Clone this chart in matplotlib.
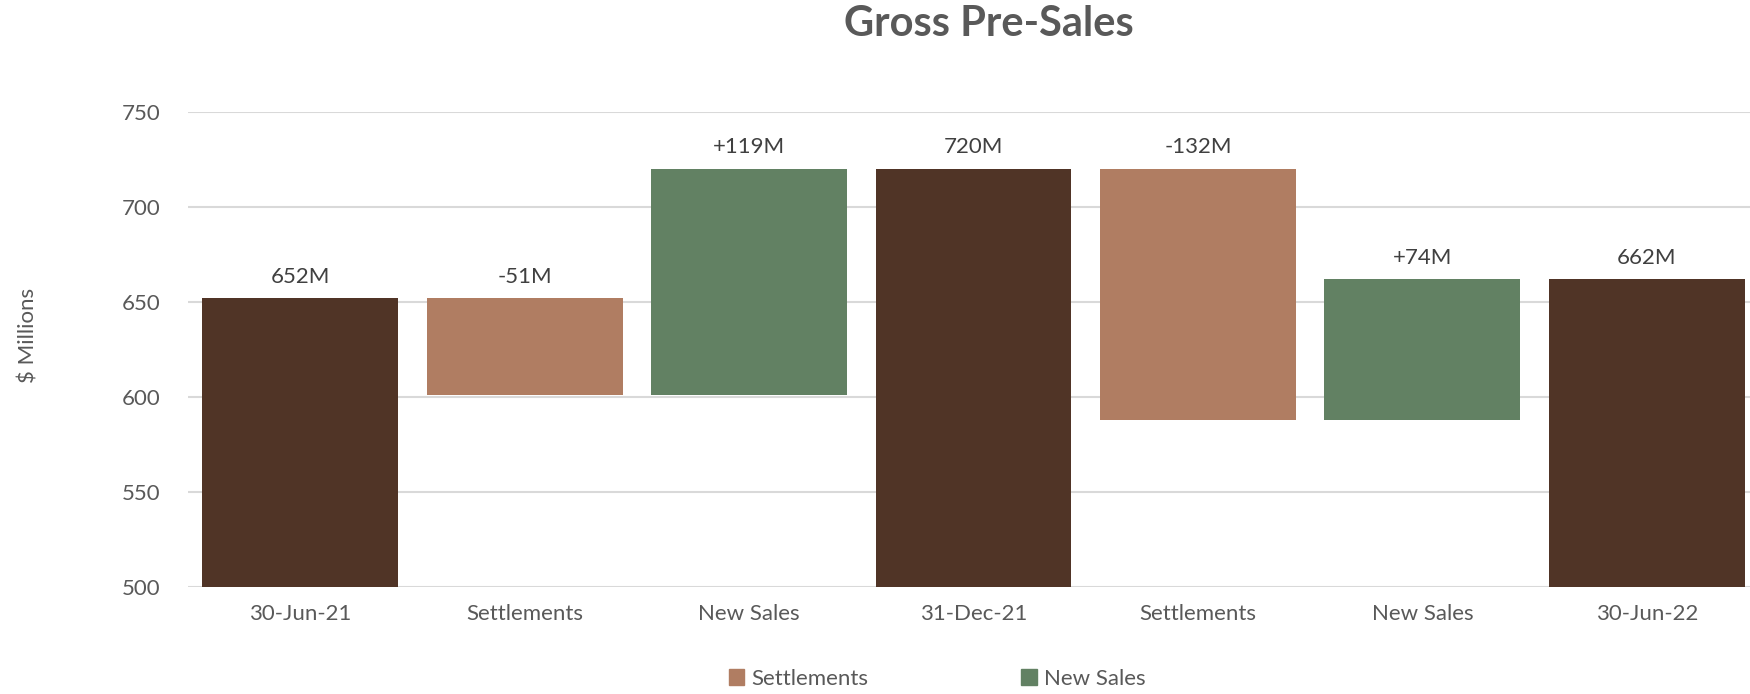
import matplotlib
matplotlib.use("Agg")
import matplotlib.pyplot as plt
from matplotlib.patches import Patch

plt.rcParams['font.family'] = ['Lato', 'DejaVu Sans']

# ---- data ----
categories = ['30-Jun-21', 'Settlements', 'New Sales', '31-Dec-21',
              'Settlements', 'New Sales', '30-Jun-22']
kinds = ['total', 'settle', 'new', 'total', 'settle', 'new', 'total']
values = [652, -51, 119, 720, -132, 74, 662]
y_ticks = [500, 550, 600, 650, 700, 750]
legend_labels = ['Settlements', 'New Sales']

colors = {'total': '#503426', 'settle': '#B07D62', 'new': '#628163'}
text_color = '#595959'
grid_color = '#D9D9D9'
ymin, ymax = 500, 750
fs = 16

fig = plt.figure(figsize=(17.5, 6.94), dpi=100)
ax = fig.add_axes([188 / 1750, 107 / 694, 1571 / 1750, 475.5 / 694])

running = 0
for i, (k, v) in enumerate(zip(kinds, values)):
    if k == 'total':
        bottom, top = ymin, v
        running = v
        label = f'{v}M'
    else:
        start = running
        running = running + v
        bottom, top = min(start, running), max(start, running)
        label = f'{v:+d}M'
    ax.bar(i, top - bottom, bottom=bottom, width=0.873, color=colors[k], zorder=2)
    ax.annotate(label, (i, top), xytext=(0, 8), textcoords='offset points',
                ha='center', va='bottom', fontsize=fs, color='#404040')

ax.set_xlim(-0.5, len(categories) - 0.5)
ax.set_ylim(ymin, ymax)
ax.set_yticks(y_ticks)
ax.set_xticks(range(len(categories)))
ax.set_xticklabels(categories)
ax.tick_params(axis='both', length=0, labelsize=fs, labelcolor=text_color)
ax.tick_params(axis='y', pad=20)
ax.tick_params(axis='x', pad=12)
ax.grid(axis='y', color=grid_color, linewidth=1.5, zorder=0)
ax.set_axisbelow(True)
for s in ax.spines.values():
    s.set_visible(False)
ax.set_ylabel('$ Millions', fontsize=fs, color=text_color, labelpad=0)
ax.yaxis.set_label_coords(-0.095, 0.53)

fig.text(989 / 1750, 1 - 24 / 694, 'Gross Pre-Sales', ha='center', va='center',
         fontsize=30, fontweight='bold', color=text_color)

handles = [Patch(color=colors['settle']), Patch(color=colors['new'])]
fig.legend(handles, legend_labels, loc='center', bbox_to_anchor=(937 / 1750, 1 - 679 / 694),
           ncol=2, frameon=False, fontsize=fs, labelcolor=text_color,
           handlelength=0.7, handleheight=0.7, handletextpad=0.3, columnspacing=6.9)

fig.savefig('out.png', dpi=100)
